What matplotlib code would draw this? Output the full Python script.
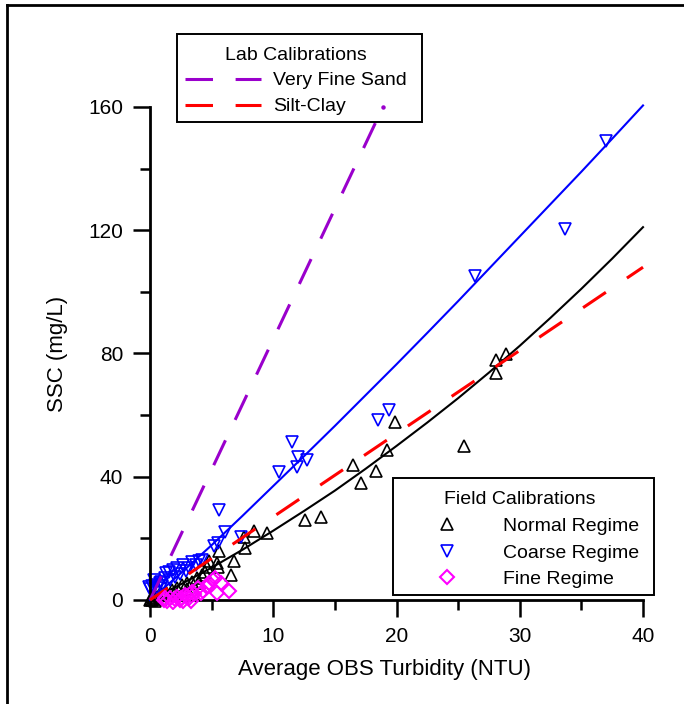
import matplotlib
matplotlib.use("Agg")
import matplotlib.pyplot as plt
from matplotlib.lines import Line2D
from matplotlib.patches import Rectangle
from matplotlib.ticker import MultipleLocator

plt.rcParams['font.family'] = ['Liberation Sans', 'DejaVu Sans']

# ---------------- data ----------------
normal_x = [28.9, 28.1, 28.1, 25.5, 19.9, 19.2, 18.3, 16.5, 17.1, 13.9, 12.6, 9.5, 8.4,
            7.6, 7.7, 6.8, 6.6, 5.6, 5.5, 4.8, 4.6, 5.4,
            0.0, 0.1, 0.2, 0.3, 0.5, 0.7, 1.0, 1.3, 1.8, 2.2, 2.6, 3.0, 3.4, 3.8, 4.2,
            4.5, 2.0, 3.0, 4.0, 0.4, 0.9]
normal_y = [79.7, 77.8, 73.8, 49.9, 57.8, 48.8, 41.9, 43.8, 37.9, 26.9, 25.9, 21.8, 22.5,
            20.5, 16.9, 12.8, 8.1, 16.0, 10.6, 12.8, 10.8, 11.9,
            0.0, 0.3, 0.1, 0.6, 1.0, 1.5, 2.0, 2.5, 3.2, 4.0, 4.8, 5.5, 6.0, 7.0, 8.0,
            9.0, 2.5, 3.5, 5.5, -0.3, 0.2]

coarse_x = [37.0, 33.7, 26.4, 19.4, 18.5, 11.5, 12.0, 11.9, 12.7, 10.5, 5.6, 6.1, 7.4,
            5.5, 5.2, 4.2, 3.4, 2.7, 1.9, 1.5, 0.3, -0.1, 0.8,
            0.0, 0.2, 0.4, 0.6, 0.9, 1.2, 1.0, 1.6, 2.0, 2.4, 2.9, 3.2, 3.7, 4.0, 2.2, 1.3]
coarse_y = [149.0, 120.3, 105.2, 61.5, 58.3, 51.3, 46.5, 43.3, 45.5, 41.6, 29.2, 22.2, 20.5,
            18.4, 17.6, 13.0, 12.4, 11.4, 9.7, 9.2, 6.5, 4.3, 5.4,
            3.5, 4.5, 5.0, 3.8, 6.0, 7.0, 4.5, 6.5, 7.5, 8.5, 9.5, 10.5, 11.5, 12.5, 10.3, 8.6]

fine_x = [6.4, 5.8, 5.3, 5.4, 4.6, 3.9, 3.4, 2.8, 2.2, 1.6, 1.1, 2.4, 3.2, 4.1, 1.9,
          1.4, 2.7, 3.0, 3.6, 4.3, 2.0, 1.2, 2.5, 3.3, 4.8, 5.1]
fine_y = [3.0, 5.4, 7.2, 2.2, 4.3, 3.8, 2.7, 1.6, 1.1, 0.5, 0.0, 0.0, 0.6, 2.2, -0.5,
          -0.4, -0.3, 1.2, 1.8, 3.0, 0.3, 0.8, 0.8, -0.2, 5.5, 6.5]

# fitted curves (values read at these turbidities)
normal_fit_x = [0, 2.5, 5, 7.5, 10, 12.5, 15, 17.5, 20, 22.5, 25, 27.5, 30, 32.5, 35, 37.5, 40]
normal_fit_y = [0, 5.1, 10.5, 16.3, 22.5, 28.9, 35.5, 42.6, 50.0, 57.6, 65.5, 73.8, 82.5,
                91.6, 101.0, 110.8, 121.0]
coarse_fit_x = [0, 2.5, 5, 7.5, 10, 12.5, 15, 17.5, 20, 22.5, 25, 27.5, 30, 32.5, 35, 37.5, 40]
coarse_fit_y = [0, 8.7, 17.8, 27.3, 37.0, 46.7, 56.5, 66.5, 76.5, 86.7, 97.0, 107.5, 118.0,
                128.5, 139.0, 149.7, 160.5]
vfs_x = [0, 18.9]
vfs_y = [0, 160]
silt_x = [0, 40]
silt_y = [0, 108]

x_major = [0, 10, 20, 30, 40]
y_major = [0, 40, 80, 120, 160]

# ---------------- figure ----------------
W, H = 684, 704
fig = plt.figure(figsize=(W / 100, H / 100), dpi=100)
ax = fig.add_axes([0.2013, 0.1346, 0.7568, 0.7178])
ax.set_xlim(-1, 41)
ax.set_ylim(-3, 161)

purple = '#9A00CC'
red = '#FF0000'
lw_lab = 2.2

ax.plot(normal_x, normal_y, linestyle='none', marker='^', ms=8.5, mfc='none',
        mec='black', mew=1.2, zorder=2, label='Normal Regime')
ax.plot(coarse_x, coarse_y, linestyle='none', marker='v', ms=8.5, mfc='none',
        mec='#0000FF', mew=1.2, zorder=2, label='Coarse Regime')
ax.plot(normal_fit_x, normal_fit_y, color='black', lw=1.5, zorder=3)
ax.plot(coarse_fit_x, coarse_fit_y, color='#0000FF', lw=1.5, zorder=3)
ax.plot(vfs_x, vfs_y, color=purple, lw=lw_lab, ls=(0.4, (9, 7.4)),
        dash_capstyle='butt', zorder=3)
ax.plot(silt_x, silt_y, color=red, lw=lw_lab, ls=(2.0, (9, 8.3)),
        dash_capstyle='butt', zorder=3)
ax.plot(fine_x, fine_y, linestyle='none', marker='D', ms=7.5, mfc='none',
        mec='#FF00FF', mew=1.5, zorder=4, label='Fine Regime')
# end point of the sand line, visible over the legend box
ax.plot(vfs_x[-1:], vfs_y[-1:], linestyle='none', marker='o', ms=2.2, color=purple,
        zorder=10)

# ---------------- axes styling ----------------
for s in ['top', 'right']:
    ax.spines[s].set_visible(False)
ax.spines['left'].set_position(('data', 0))
ax.spines['bottom'].set_position(('data', 0))
ax.spines['left'].set_bounds(0, 160)
ax.spines['bottom'].set_bounds(0, 40)
for s in ['left', 'bottom']:
    ax.spines[s].set_linewidth(2.0)
ax.set_xticks(x_major)
ax.set_yticks(y_major)
ax.xaxis.set_minor_locator(MultipleLocator(5))
ax.yaxis.set_minor_locator(MultipleLocator(20))
ax.tick_params(which='major', direction='out', length=12.2, width=1.8, labelsize=15,
               colors='black')
ax.tick_params(which='minor', direction='out', length=7.2, width=1.8)
ax.tick_params(axis='x', which='major', pad=7.5)
ax.tick_params(axis='y', which='major', pad=7)

ax.set_xlabel('Average OBS Turbidity (NTU)', fontsize=16)
ax.set_ylabel('SSC (mg/L)', fontsize=16)
ax.xaxis.label.set_va('center')
ax.yaxis.label.set_va('center')
ax.xaxis.set_label_coords(0.4766, -0.1183)
ax.yaxis.set_label_coords(-0.154, 0.506)

# ---------------- legends ----------------
fs = 14

def fx(px):
    return px / W

def fy(py):
    return 1 - py / H

def frame(x0, y0, x1, y1):
    r = Rectangle((fx(x0), fy(y1)), fx(x1) - fx(x0), fy(y0) - fy(y1),
                  transform=fig.transFigure, facecolor='white', edgecolor='black',
                  linewidth=1.4, zorder=5, clip_on=False)
    ax.add_artist(r)

frame(177, 34, 422, 122)
frame(393, 478, 654, 595)

leg_ls = (0, (9, 7.4))
lab_handles = [Line2D([], [], color=purple, lw=lw_lab, ls=leg_ls, dash_capstyle='butt'),
               Line2D([], [], color=red, lw=lw_lab, ls=leg_ls, dash_capstyle='butt')]
lab = ax.legend(handles=lab_handles, labels=['Very Fine Sand', 'Silt-Clay'],
                title='Lab Calibrations', loc='upper left',
                bbox_to_anchor=(fx(185), fy(46.5)), bbox_transform=fig.transFigure,
                borderaxespad=0, fontsize=fs, title_fontsize=fs, frameon=False,
                handlelength=3.91, handletextpad=0.62, borderpad=0, labelspacing=0.43)
lab.set_zorder(6)
ax.add_artist(lab)

h = ax.get_legend_handles_labels()[0]
field_handles = [hh for hh in h if hh.get_label() in ('Normal Regime', 'Coarse Regime', 'Fine Regime')]
field = ax.legend(handles=field_handles, title='Field Calibrations', loc='upper left',
                  bbox_to_anchor=(fx(401), fy(491.5)), bbox_transform=fig.transFigure,
                  borderaxespad=0, fontsize=fs, title_fontsize=fs, frameon=False,
                  numpoints=1, handlelength=4.73, handletextpad=0.5, borderpad=0,
                  labelspacing=0.46)
field.set_zorder(6)

# figure border (left and top)
fig.add_artist(Line2D([6.5 / W, 6.5 / W], [0, 1 - 5.3 / H], color='black', lw=2.0,
                      transform=fig.transFigure))
fig.add_artist(Line2D([6.5 / W, 1], [1 - 5.3 / H, 1 - 5.3 / H], color='black', lw=2.0,
                      transform=fig.transFigure))

fig.savefig('out.png', dpi=100)
